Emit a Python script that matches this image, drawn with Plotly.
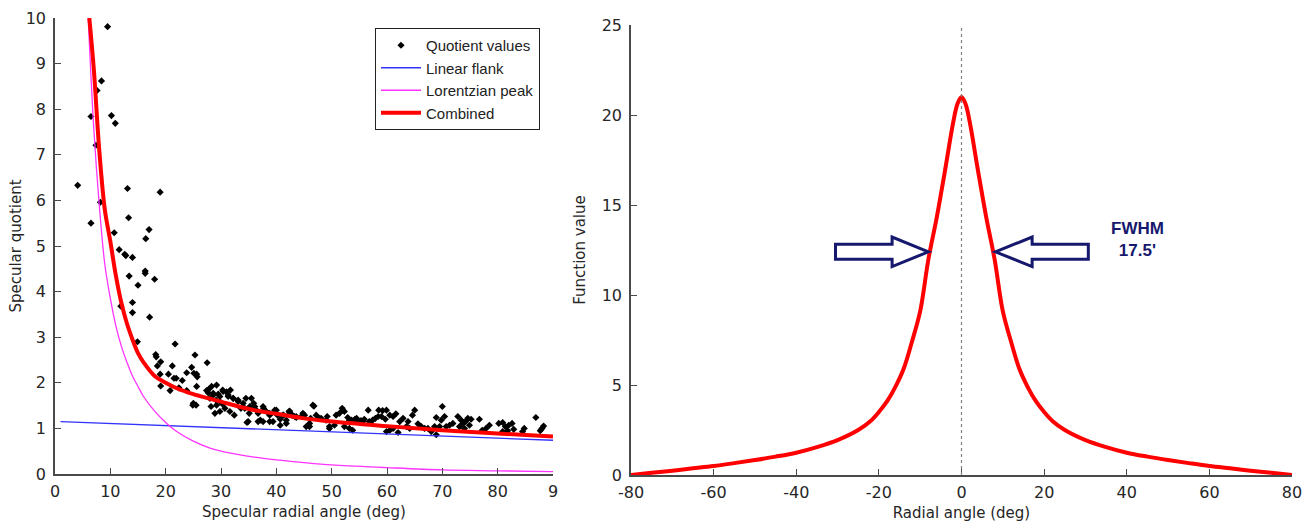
import plotly.graph_objects as go

W, H = 1309, 526

# ---------------- Left panel data ----------------
quot_x = [4.1, 6.5, 6.5, 7.4, 7.6, 8.2, 8.4, 9.5, 10.2, 10.9, 13.1, 19.0, 13.3, 17.0, 16.4, 10.7, 11.6, 12.6, 12.8, 14.0,
          13.4, 16.3, 16.3, 18.0, 15.0, 11.9, 14.0, 14.0, 17.1, 14.9, 21.7, 18.2, 18.3, 19.1, 18.5, 21.2, 25.3, 27.5, 24.7, 23.8,
          25.1, 25.6, 25.7, 19.0, 20.5, 21.5, 21.9, 23.0, 19.1, 20.8, 22.4, 23.8, 25.6, 24.9, 25.5, 27.4, 27.7, 27.8, 28.3, 29.2,
          28.6, 29.5, 30.3, 31.0, 31.7, 28.0, 29.1, 29.8, 28.2, 30.3, 31.3, 32.2, 33.1, 30.7, 28.9, 29.8, 31.6, 32.4, 33.6, 34.3,
          34.5, 35.5, 35.9, 36.1, 35.1, 34.7, 36.7, 37.1, 37.7, 38.2, 38.8, 39.4, 39.7, 40.2, 40.7, 41.3, 41.8, 42.3, 42.8, 43.3,
          40.7, 37.6, 28.6, 29.8, 30.4, 31.3, 32.2, 33.1, 34.0, 35.2, 36.4, 37.6, 38.8, 40.0, 41.2, 42.4, 43.6, 44.8, 46.6, 47.8,
          49.0, 50.8, 52.0, 53.2, 54.5, 55.6, 29.2, 25.0, 34.9, 36.7, 38.8, 41.8, 46.0, 49.6,
          42.4, 42.9, 43.6, 44.5, 45.1, 46.8, 46.2, 47.2, 48.1, 49.2, 45.4, 46.0, 49.6, 50.5, 51.4, 51.9, 52.3, 52.9, 53.6, 54.2,
          52.3, 53.2, 53.8, 54.7, 55.3, 55.9, 56.6, 56.8, 57.4, 57.9, 58.4, 58.5, 59.2, 59.9, 59.0, 59.7, 59.9, 60.5, 61.1, 60.5,
          61.1, 61.6, 62.0, 62.3, 62.9, 63.8, 64.6, 65.0, 63.5, 64.1, 65.6, 66.2, 66.8, 67.4, 68.0, 68.6, 68.9, 68.9, 69.8, 70.0,
          70.4, 69.5, 70.7, 71.3, 71.9, 72.8, 73.4, 73.7, 74.2, 74.6, 75.2, 73.1, 74.0, 74.9, 76.7, 77.2, 77.9, 78.5, 80.2, 80.9,
          81.4, 82.0, 82.6, 82.9, 80.9, 81.8, 84.5, 84.8, 86.9, 87.7, 88.0, 88.3]
quot_y = [6.33, 5.50, 7.84, 7.21, 8.41, 5.96, 8.62, 9.81, 7.86, 7.69, 6.26, 6.18, 5.62, 5.36, 5.16, 5.29, 4.92, 4.82, 4.79, 4.75,
          4.34, 4.45, 4.40, 4.27, 4.14, 3.68, 3.76, 3.54, 3.44, 2.90, 2.85, 2.62, 2.57, 2.46, 2.37, 2.37, 2.61, 2.44, 2.34, 2.22,
          2.21, 2.19, 2.13, 2.19, 2.19, 2.10, 2.10, 2.05, 1.93, 1.83, 1.89, 1.83, 1.92, 1.51, 1.51, 1.83, 1.78, 1.86, 1.92, 1.95,
          1.73, 1.75, 1.84, 1.80, 1.84, 1.66, 1.62, 1.59, 1.48, 1.53, 1.70, 1.66, 1.62, 1.44, 1.33, 1.37, 1.37, 1.29, 1.44, 1.44,
          1.66, 1.66, 1.55, 1.48, 1.33, 1.13, 1.33, 1.18, 1.44, 1.37, 1.29, 1.15, 1.40, 1.29, 1.20, 1.29, 1.18, 1.37, 1.29, 1.26,
          1.07, 1.15, 1.77, 1.70, 1.81, 1.73, 1.66, 1.59, 1.55, 1.48, 1.40, 1.48, 1.33, 1.40, 1.29, 1.34, 1.26, 1.33, 1.51, 1.22,
          1.18, 1.29, 1.40, 1.18, 1.22, 1.15, 1.51, 1.55, 1.15, 1.15, 1.15, 1.11, 1.04, 1.00,
          1.38, 1.29, 1.24, 1.26, 1.29, 1.49, 1.22, 1.29, 1.22, 1.26, 1.04, 1.11, 1.04, 1.07, 1.33, 1.44, 1.37, 1.24, 1.18, 1.20,
          1.04, 1.00, 0.96, 1.17, 1.17, 1.20, 1.40, 1.15, 1.18, 1.22, 1.26, 1.40, 1.39, 1.40, 1.26, 1.20, 0.93, 0.96, 1.00, 1.29,
          1.26, 1.32, 0.91, 1.15, 1.22, 1.15, 1.29, 1.40, 1.04, 1.00, 1.10, 1.04, 1.00, 1.00, 0.93, 1.04, 0.86, 1.24, 1.18, 1.48,
          1.26, 1.04, 1.04, 1.07, 1.11, 1.26, 1.18, 1.11, 1.15, 1.22, 1.20, 1.04, 1.00, 1.07, 1.20, 0.96, 1.00, 1.07, 1.11, 1.13,
          1.04, 1.07, 1.11, 0.98, 0.93, 0.95, 0.93, 1.00, 1.24, 0.95, 1.00, 1.05]

flank_x = [1, 90]
flank_y = [1.15, 0.74]

lor_x = [6.0, 7.0, 8.0, 9.0, 10, 11, 12, 13, 14, 15, 16, 18, 20, 22, 25, 28, 32, 36, 40, 45, 50, 60, 70, 80, 90]
lor_y = [10, 7.6, 5.9, 4.6, 3.85, 3.25, 2.8, 2.45, 2.15, 1.92, 1.7, 1.38, 1.13, 0.93, 0.72, 0.57, 0.45, 0.37, 0.31,
         0.25, 0.2, 0.14, 0.09, 0.07, 0.05]

comb_x = [6.2, 7, 8, 9, 10, 11, 12, 13, 14, 15, 16, 18, 20, 22, 25, 28, 32, 36, 40, 45, 50, 60, 70, 80, 90]
comb_y = [10, 8.9, 7.1, 5.8, 5.1, 4.35, 3.75, 3.3, 2.95, 2.65, 2.45, 2.15, 2.0, 1.88, 1.75, 1.65, 1.52, 1.4, 1.32,
          1.22, 1.15, 1.05, 0.96, 0.89, 0.82]

left_xticks = [0, 10, 20, 30, 40, 50, 60, 70, 80, 90]
left_xlabels = ["0", "10", "20", "30", "40", "50", "60", "70", "80", "9"]
left_yticks = [0, 1, 2, 3, 4, 5, 6, 7, 8, 9, 10]

# ---------------- Right panel data ----------------
ang_x = [-80, -75, -70, -65, -60, -55, -50, -45, -40, -35, -30, -25, -22, -20, -18, -16, -14, -12, -10, -8, -6, -4,
         -2, -1, 0, 1, 2, 4, 6, 8, 10, 12, 14, 16, 18, 20, 22, 25, 30, 35, 40, 45, 50, 55, 60, 65, 70, 75, 80]
func_y = [0.0, 0.12, 0.24, 0.37, 0.5, 0.66, 0.83, 1.02, 1.24, 1.55, 1.94, 2.5, 3.0, 3.5, 4.1, 4.9, 5.9, 7.4, 9.1, 12.0,
          14.3, 16.9, 19.6, 20.6, 21.0, 20.6, 19.6, 16.9, 14.3, 12.0, 9.1, 7.4, 5.9, 4.9, 4.1, 3.5, 3.0, 2.5, 1.94, 1.55,
          1.24, 1.02, 0.83, 0.66, 0.5, 0.37, 0.24, 0.12, 0.0]

right_xticks = [-80, -60, -40, -20, 0, 20, 40, 60, 80]
right_xlabels = ["-80", "-60", "-40", "-20", "0", "20", "40", "60", "80"]
right_yticks = [0, 5, 10, 15, 20, 25]

fwhm_level = 12.4
fwhm_half = 7.7
fwhm_label = "FWHM<br>17.5'"

# ---------------- Figure ----------------
fig = go.Figure()

fig.add_trace(go.Scatter(x=quot_x, y=quot_y, mode="markers", name="Quotient values",
                         marker=dict(symbol="diamond", size=5.5, color="black"),
                         xaxis="x", yaxis="y"))
fig.add_trace(go.Scatter(x=flank_x, y=flank_y, mode="lines", name="Linear flank",
                         line=dict(color="#3333ff", width=1.3), xaxis="x", yaxis="y"))
fig.add_trace(go.Scatter(x=lor_x, y=lor_y, mode="lines", name="Lorentzian peak",
                         line=dict(color="#ff33ff", width=1.3, shape="spline"), xaxis="x", yaxis="y"))
fig.add_trace(go.Scatter(x=comb_x, y=comb_y, mode="lines", name="Combined",
                         line=dict(color="#ff0000", width=4, shape="spline"), xaxis="x", yaxis="y"))

fig.add_trace(go.Scatter(x=ang_x, y=func_y, mode="lines", showlegend=False,
                         line=dict(color="#ff0000", width=4, shape="spline"), xaxis="x2", yaxis="y2"))

axcol = "#4a4a4a"
tickfont = dict(family="DejaVu Sans", size=16, color="#262626")
titlefont = dict(family="DejaVu Sans", size=15, color="#262626")

def px_x(p):
    return p / W

def px_y(p):
    return 1 - p / H

common = dict(showgrid=False, zeroline=False, showline=True, linecolor=axcol, linewidth=1.5,
              ticks="inside", ticklen=6, tickcolor=axcol, tickwidth=1.3, tickfont=tickfont, mirror=False,
              automargin=False)

fig.update_layout(
    width=W, height=H,
    margin=dict(l=0, r=0, t=0, b=0),
    paper_bgcolor="white", plot_bgcolor="white",
    font=dict(family="DejaVu Sans"),
    xaxis=dict(domain=[px_x(55), px_x(553)], range=[0, 90], tickmode="array",
               tickvals=left_xticks, ticktext=left_xlabels, ticklabelstandoff=2,
               title=dict(text="Specular radial angle (deg)", font=titlefont, standoff=7), anchor="y", **common),
    yaxis=dict(domain=[px_y(474), px_y(18)], range=[0, 10], tickmode="array", tickvals=left_yticks,
               ticklabelstandoff=4,
               title=dict(text="Specular quotient", font=titlefont, standoff=0), anchor="x", **common),
    xaxis2=dict(domain=[px_x(631), px_x(1292)], range=[-80, 80], tickmode="array", tickvals=right_xticks,
                ticktext=right_xlabels, ticklabelstandoff=2,
                title=dict(text="Radial angle (deg)", font=titlefont, standoff=7), anchor="y2", **common),
    yaxis2=dict(domain=[px_y(475), px_y(25)], range=[0, 25], tickmode="array", tickvals=right_yticks,
                ticklabelstandoff=4,
                title=dict(text="Function value", font=titlefont, standoff=12), anchor="x2", **common),
    legend=dict(x=px_x(375), y=px_y(28), xanchor="left", yanchor="top",
                bordercolor="#222222", borderwidth=1, bgcolor="white",
                font=dict(family="Liberation Sans, Arial", size=15, color="#222222"),
                tracegroupgap=0, itemwidth=40),
    showlegend=True,
)

# dotted vertical line at 0 in right panel
fig.add_shape(type="line", xref="x2", yref="y2", x0=0, x1=0, y0=0, y1=25,
              line=dict(color="#808080", width=1.2, dash="dot"))

navy = "#16186e"

def arrow_path(tip, head_base, tail, yc, shaft_h=0.42, head_h=0.82):
    pts = [(tip, yc), (head_base, yc + head_h), (head_base, yc + shaft_h), (tail, yc + shaft_h),
           (tail, yc - shaft_h), (head_base, yc - shaft_h), (head_base, yc - head_h)]
    return "M " + " L ".join(f"{x},{y}" for x, y in pts) + " Z"

# right-pointing arrow on the left side, left-pointing arrow on the right side
fig.add_shape(type="path", xref="x2", yref="y2",
              path=arrow_path(-fwhm_half - 0.3, -16.8, -30.5, fwhm_level),
              line=dict(color=navy, width=3), fillcolor="white")
fig.add_shape(type="path", xref="x2", yref="y2",
              path=arrow_path(fwhm_half + 0.5, 17.1, 30.7, fwhm_level),
              line=dict(color=navy, width=3), fillcolor="white")

fig.add_annotation(xref="x2", yref="y2", x=42.5, y=fwhm_level + 0.7, text=f"<b>{fwhm_label}</b>",
                   showarrow=False, font=dict(family="Liberation Sans, Arial", size=17, color=navy),
                   align="center")

fig.write_html("out.html", config={"displayModeBar": False},
               post_script="document.body.style.margin='0';document.body.style.overflow='hidden';")
